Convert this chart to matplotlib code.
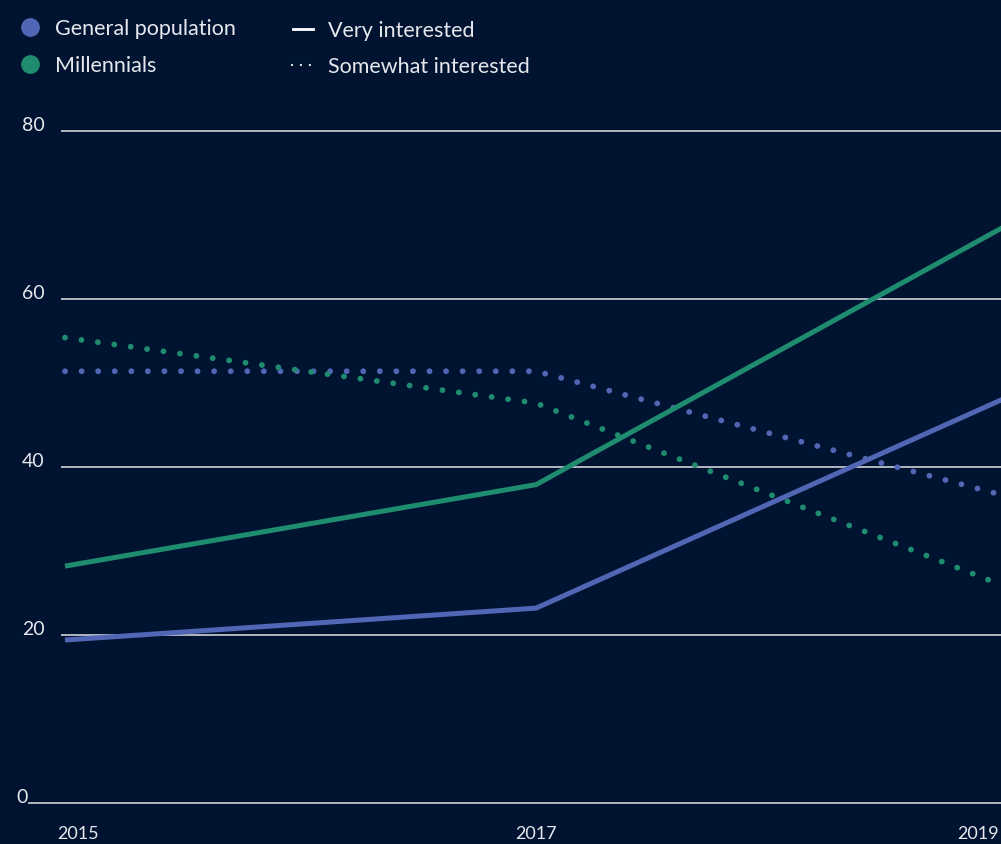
import matplotlib
matplotlib.use("Agg")
import matplotlib.pyplot as plt
from matplotlib.lines import Line2D

plt.rcParams.update({"font.family": ["Lato", "DejaVu Sans"], "font.size": 13})

BG = "#001330"
C_GEN = "#5166B5"
C_MIL = "#1F8C70"
C_GRID = "#BFC3CB"
C_TXT = "#E6E8EE"

years = [2015, 2017, 2019]
gen_very = [19.4, 23.2, 48.3]
mil_very = [28.2, 37.9, 68.8]
gen_some = [51.4, 51.4, 36.5]
mil_some = [55.4, 47.6, 25.7]
yticks = [0, 20, 40, 60, 80]

fig = plt.figure(figsize=(10.01, 8.45), dpi=100, facecolor=BG)
ax = fig.add_axes([0, 0, 1, 1], facecolor=BG)
ax.set_xlim(2014.724, 2018.974)
ax.set_ylim(-4.88, 95.71)
ax.axis("off")

# gridlines + y labels
for t in yticks:
    x0 = 2014.843 if t == 0 else 2014.983
    ax.hlines(t, x0, 2019.2, color=C_GRID, lw=1.3, zorder=1)
    ax.text(2014.724 + (16 if t == 0 else 22) / 235.5, t + 0.75, str(t),
            color=C_TXT, fontsize=14, ha="left", va="center")

dots = dict(lw=4.2, linestyle=(0, (0.01, 2.83)), dash_capstyle="round")
ax.plot(years, gen_some, color=C_GEN, zorder=2, **dots)
ax.plot(years, mil_some, color=C_MIL, zorder=2, **dots)
ax.plot(years, gen_very, color=C_GEN, lw=3.6, zorder=3, solid_capstyle="butt")
ax.plot(years, mil_very, color=C_MIL, lw=3.6, zorder=3, solid_capstyle="butt")

# x labels
ax.text(years[0] - 8 / 235.5, -3.6, "2015", color=C_TXT, ha="left", va="center", fontsize=13)
ax.text(years[1], -3.6, "2017", color=C_TXT, ha="center", va="center", fontsize=13)
ax.text(years[2] - 50 / 235.5, -3.6, "2019", color=C_TXT, ha="left", va="center", fontsize=13)

# legend
W, H = 1001, 845
def fx(p): return p / W
def fy(p): return 1 - p / H
for y, c, lab in [(28, C_GEN, "General population"), (65, C_MIL, "Millennials")]:
    fig.add_artist(Line2D([fx(30)], [fy(y)], marker="o", ms=12.5, color=c, mec=c))
    fig.text(fx(55), fy(y + 1), lab, color=C_TXT, fontsize=15.5, va="center", ha="left")
fig.add_artist(Line2D([fx(293), fx(313)], [fy(30), fy(30)], color="white", lw=2))
fig.text(fx(328), fy(31), "Very interested", color=C_TXT, fontsize=15.5, va="center", ha="left")
fig.add_artist(Line2D([fx(292), fx(314)], [fy(66), fy(66)], color="white", lw=1.6,
                      linestyle=(0, (0.01, 4)), dash_capstyle="round"))
fig.text(fx(328), fy(67), "Somewhat interested", color=C_TXT, fontsize=15.5, va="center", ha="left")

fig.savefig("out.png", dpi=100, facecolor=BG)
